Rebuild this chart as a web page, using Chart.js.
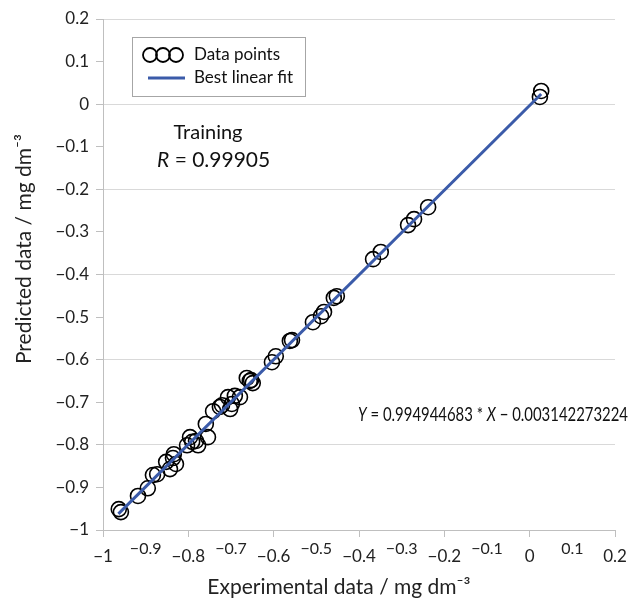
<!DOCTYPE html>
<html lang="en">
<head>
    <title>Training: predicted vs experimental</title>
    <script src="https://cdn.jsdelivr.net/npm/chart.js"></script>
    <style>
        body {
            margin: 0;
            background: #ffffff;
        }
        .chart-box {
            width: 630px;
            height: 603px;
            position: relative;
        }
    </style>
</head>
<body>
    <div class="chart-box">
        <canvas id="fitChart"></canvas>
    </div>

    <script>
        // Valores (mg dm^-3)
        const expX = [-0.963, -0.958, -0.918, -0.895, -0.883, -0.873, -0.852, -0.843, -0.834, -0.829,
                      -0.836, -0.803, -0.796, -0.791, -0.782, -0.777, -0.759, -0.754, -0.742, -0.726,
                      -0.721, -0.707, -0.702, -0.698, -0.691, -0.679, -0.663, -0.656, -0.649, -0.653,
                      -0.604, -0.595, -0.562, -0.557, -0.508, -0.489, -0.482, -0.459, -0.452, -0.367,
                      -0.349, -0.285, -0.271, -0.238, 0.027, 0.024];
        const predY = [-0.951, -0.958, -0.920, -0.902, -0.871, -0.869, -0.840, -0.857, -0.822, -0.845,
                       -0.831, -0.801, -0.782, -0.793, -0.791, -0.801, -0.751, -0.782, -0.721, -0.711,
                       -0.707, -0.688, -0.716, -0.704, -0.685, -0.688, -0.643, -0.650, -0.655, -0.648,
                       -0.606, -0.592, -0.556, -0.554, -0.512, -0.498, -0.488, -0.455, -0.451, -0.364,
                       -0.347, -0.284, -0.270, -0.242, 0.031, 0.017];
        const fitX = [-0.964, 0.027];
        const fitY = [-0.962, 0.024];
        const xTickLabels = ['−1', '−0.9', '−0.8', '−0.7', '−0.6', '−0.5', '−0.4', '−0.3', '−0.2', '−0.1', '0', '0.1', '0.2'];
        const yTickLabels = ['−1', '−0.9', '−0.8', '−0.7', '−0.6', '−0.5', '−0.4', '−0.3', '−0.2', '−0.1', '0', '0.1', '0.2'];

        const FONT = 'Lato, "Open Sans", sans-serif';
        const BLUE = '#3b5ba9';
        const AXIS_GREY = '#bfbfbf';

        // escribe trozos de texto (normal / cursiva) uno tras otro
        function drawRuns(c, runs, x, y, size) {
            runs.forEach(([t, it]) => {
                c.font = (it ? 'italic ' : '') + size + 'px ' + FONT;
                c.fillText(t, x, y);
                x += c.measureText(t).width;
            });
        }
        function runsWidth(c, runs, size) {
            let w = 0;
            runs.forEach(([t, it]) => {
                c.font = (it ? 'italic ' : '') + size + 'px ' + FONT;
                w += c.measureText(t).width;
            });
            return w;
        }

        // etiquetas del eje x escalonadas, títulos, leyenda y textos
        const extras = {
            id: 'extras',
            afterDraw(chart) {
                const c = chart.ctx;
                const xs = chart.scales.x;
                const area = chart.chartArea;
                c.save();
                c.fillStyle = '#222';
                c.textAlign = 'center';
                c.textBaseline = 'middle';
                xTickLabels.forEach((lab, i) => {
                    const v = -1 + i * 0.1;
                    const px = xs.getPixelForValue(v);
                    if (i % 2 === 0) {
                        c.font = '17px ' + FONT;
                        c.fillText(lab, px, area.bottom + 27);
                    } else {
                        c.font = '16px ' + FONT;
                        c.fillText(lab, px, area.bottom + 19);
                    }
                });

                // títulos de ejes
                c.textBaseline = 'alphabetic';
                c.font = '21px ' + FONT;
                c.fillText('Experimental data / mg dm⁻³', area.left + 236, area.bottom + 64);
                c.save();
                c.translate(area.left - 72, area.top + 230);
                c.rotate(-Math.PI / 2);
                c.font = '21px ' + FONT;
                c.fillText('Predicted data / mg dm⁻³', 0, 0);
                c.restore();

                // leyenda
                c.textBaseline = 'middle';
                const lx = area.left + 29, ly = area.top + 18;
                c.strokeStyle = '#a6a6a6';
                c.lineWidth = 1;
                c.strokeRect(lx + 0.5, ly + 0.5, 173, 59);
                c.strokeStyle = '#000';
                c.lineWidth = 1.8;
                [18, 31, 44].forEach(dx => {
                    c.beginPath();
                    c.arc(lx + dx, ly + 18, 7, 0, Math.PI * 2);
                    c.stroke();
                });
                c.strokeStyle = BLUE;
                c.lineWidth = 3;
                c.beginPath();
                c.moveTo(lx + 16, ly + 41);
                c.lineTo(lx + 53, ly + 41);
                c.stroke();
                c.font = '17px ' + FONT;
                c.textAlign = 'left';
                c.fillStyle = '#111';
                c.fillText('Data points', lx + 62, ly + 18);
                c.fillText('Best linear fit', lx + 62, ly + 41);

                // Training / R
                c.font = '20px ' + FONT;
                c.textAlign = 'center';
                c.fillText('Training', area.left + 105, area.top + 114);
                c.textAlign = 'left';
                drawRuns(c, [['R', true], [' = 0.99905', false]], area.left + 54, area.top + 141, 21);

                // ecuación (comprimida a lo ancho como en el original)
                const eq = [['Y', true], [' = 0.994944683 * ', false], ['X', true], [' − 0.003142273224', false]];
                const w = runsWidth(c, eq, 18.5);
                c.save();
                c.translate(area.left + 255, area.top + 396);
                c.scale(270 / w, 1);
                drawRuns(c, eq, 0, 0, 18.5);
                c.restore();
                c.restore();
            }
        };

        const ctx = document.getElementById('fitChart').getContext('2d');
        const chart = new Chart(ctx, {
            type: 'scatter',
            data: {
                datasets: [
                    {
                        label: 'Best linear fit',
                        data: fitX.map((x, i) => ({ x: x, y: fitY[i] })),
                        showLine: true,
                        borderColor: BLUE,
                        borderWidth: 3,
                        pointRadius: 0,
                        order: 0
                    },
                    {
                        label: 'Data points',
                        data: expX.map((x, i) => ({ x: x, y: predY[i] })),
                        pointRadius: 7.5,
                        pointBorderWidth: 1.6,
                        pointBorderColor: '#000',
                        pointBackgroundColor: 'rgba(0,0,0,0)',
                        order: 1
                    }
                ]
            },
            options: {
                responsive: true,
                maintainAspectRatio: false,
                animation: false,
                layout: { padding: { left: 0, right: 15, top: 19, bottom: 0 } },
                plugins: {
                    legend: { display: false },
                    tooltip: { enabled: false }
                },
                scales: {
                    x: {
                        type: 'linear',
                        min: -1,
                        max: 0.2,
                        afterFit: s => { s.height = 73; },
                        ticks: { stepSize: 0.1, display: false },
                        grid: {
                            drawOnChartArea: false,
                            tickLength: 7,
                            tickColor: c => c.index % 2 === 0 ? AXIS_GREY : 'rgba(0,0,0,0)'
                        },
                        border: { color: AXIS_GREY }
                    },
                    y: {
                        type: 'linear',
                        min: -1,
                        max: 0.2,
                        afterFit: s => { s.width = 103; },
                        ticks: {
                            stepSize: 0.1,
                            color: '#222',
                            padding: 7,
                            font: { family: FONT, size: 17 },
                            callback: (v, i) => yTickLabels[i]
                        },
                        grid: {
                            color: c => c.index % 2 === 0 ? '#d9d9d9' : 'rgba(0,0,0,0)',
                            tickColor: AXIS_GREY,
                            tickLength: 7
                        },
                        border: { color: AXIS_GREY }
                    }
                }
            },
            plugins: [extras]
        });
    </script>
</body>
</html>
